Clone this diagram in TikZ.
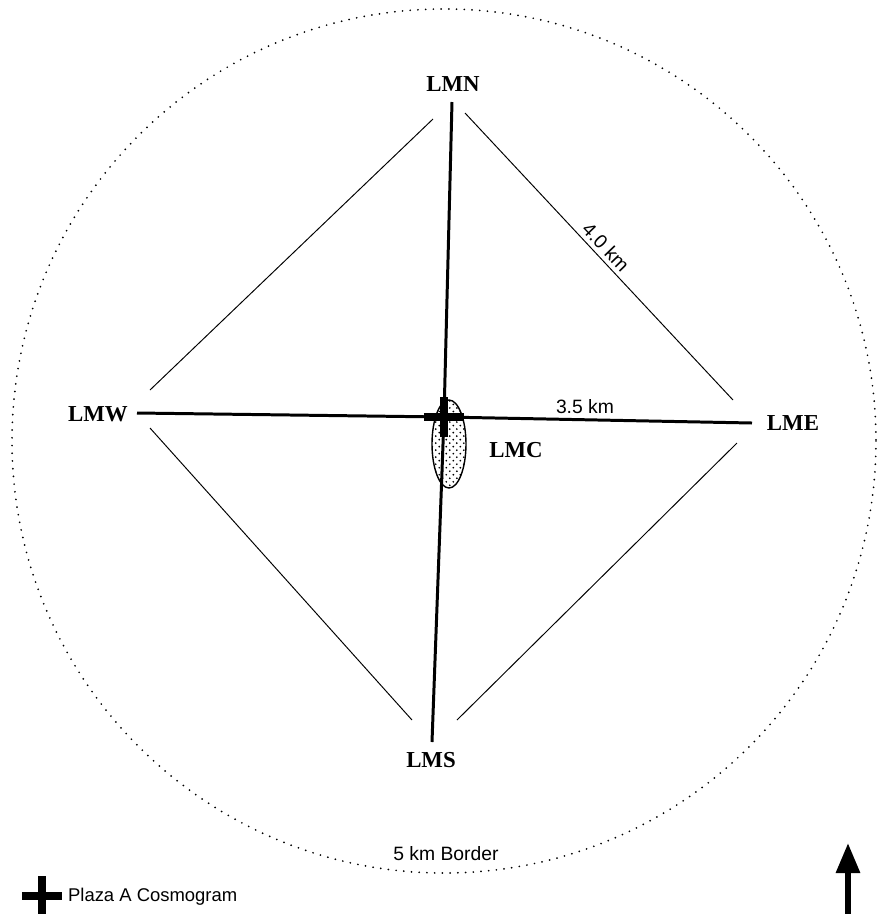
\documentclass[tikz,border=0pt]{standalone}
\usepackage{fontspec}
\setmainfont{Liberation Serif}
\setsansfont{Liberation Sans}
\usetikzlibrary{arrows.meta, shapes.geometric, shapes.misc, patterns}

\pgfdeclarepatternformonly{sitedots}{\pgfqpoint{-1pt}{-1pt}}{\pgfqpoint{5pt}{5pt}}{\pgfqpoint{4pt}{4pt}}{
  \pgfpathcircle{\pgfqpoint{0pt}{0pt}}{0.55pt}
  \pgfpathcircle{\pgfqpoint{2pt}{2pt}}{0.55pt}
  \pgfusepath{fill}
}

\begin{document}
\begin{tikzpicture}[
  x=0.02cm, y=-0.02cm,
  station/.style={font=\fontsize{13}{15}\selectfont\bfseries, inner sep=1pt},
  note/.style={font=\sffamily\fontsize{11}{13}\selectfont, inner sep=1pt},
  spoke/.style={line width=1.7pt},
  side/.style={line width=0.55pt},
  plaza/.style={cross out, draw, rotate=45, line width=4.2pt, minimum size=0.42cm, inner sep=0pt},
  border/.style={line width=1.1pt, line cap=round, dash pattern=on 0pt off 4.4pt}
]
\useasboundingbox (0,0) rectangle (880,914);

\draw[border] (444,441) circle (432);

\node[draw, ellipse, line width=0.8pt, pattern=sitedots, minimum width=0.68cm, minimum height=1.76cm, inner sep=0pt] (site) at (449,444) {};

\node[station] (lmn) at (453,84)  {LMN};
\node[station] (lms) at (431,760) {LMS};
\node[station] (lmw) at (98,414)  {LMW};
\node[station] (lme) at (793,423) {LME};
\node[station] (lmc) at (516,450) {LMC};

\node[plaza] (center) at (444,417) {};

\coordinate (n-end) at (452,102);
\coordinate (s-end) at (432,742);
\coordinate (w-end) at (137,413);
\coordinate (e-end) at (752,423);

\draw[spoke] (n-end) -- (center.center);
\draw[spoke] (center.center) -- (s-end);
\draw[spoke] (w-end) -- (center.center);
\draw[spoke] (center.center) -- (e-end);

\coordinate (nw-a) at (150,390);
\coordinate (nw-b) at (433,119);
\coordinate (ne-a) at (465,113);
\coordinate (ne-b) at (733,400);
\coordinate (sw-a) at (150,428);
\coordinate (sw-b) at (412,720);
\coordinate (se-a) at (457,720);
\coordinate (se-b) at (737,443);

\draw[side] (nw-a) -- (nw-b);
\draw[side] (ne-a) -- (ne-b);
\draw[side] (sw-a) -- (sw-b);
\draw[side] (se-a) -- (se-b);

\node[note, rotate=-46] (len-ne) at (606,247) {4.0 km};
\node[note] (len-e) at (585,407) {3.5 km};
\node[note] (len-border) at (446,854) {5 km Border};

\node[plaza] (key) at (42,896) {};
\node[note, anchor=west, font=\sffamily\fontsize{10.5}{12}\selectfont] (key-text) at (66,897) {Plaza A Cosmogram};

\coordinate (north-tail) at (848,914);
\coordinate (north-tip) at (848,843);
\draw[line width=3.4pt, -{Triangle[length=0.6cm, width=0.46cm]}] (north-tail) -- (north-tip);
\end{tikzpicture}
\end{document}
